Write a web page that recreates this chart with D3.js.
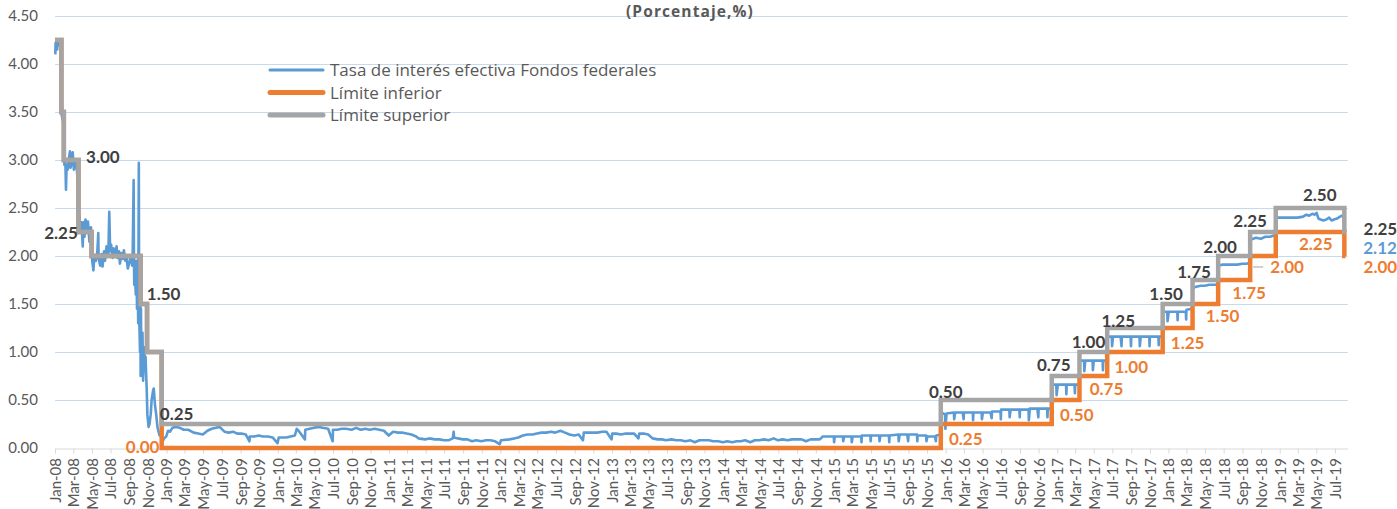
<!DOCTYPE html>
<html><head><meta charset="utf-8">
<script src="https://cdn.jsdelivr.net/npm/d3@7"></script>
<style>body{margin:0;background:#fff}svg{display:block;font-family:Lato,"Open Sans",sans-serif}</style>
</head><body><svg id="c" width="1397" height="509"></svg>
<script>
// ---------------- DATA ----------------
const title = "(Porcentaje,%)";
const seriesNames = ["Tasa de interés efectiva Fondos federales", "Límite inferior", "Límite superior"];
const yTicks = [0, 0.5, 1, 1.5, 2, 2.5, 3, 3.5, 4, 4.5];

// Policy range change dates and bounds
const policyDates = ["2008-01-01","2008-01-22","2008-01-30","2008-03-18","2008-04-30","2008-10-08","2008-10-29","2008-12-16","2015-12-16","2016-12-14","2017-03-15","2017-06-14","2017-12-13","2018-03-21","2018-06-13","2018-09-26","2018-12-19","2019-08-01"];
const upperValues = [4.25,3.50,3.00,2.25,2.00,1.50,1.00,0.25,0.50,0.75,1.00,1.25,1.50,1.75,2.00,2.25,2.50,2.25];
const lowerValues = [4.25,3.50,3.00,2.25,2.00,1.50,1.00,0.00,0.25,0.50,0.75,1.00,1.25,1.50,1.75,2.00,2.25,2.00];
const lastDate = "2019-08-05";

// Effective federal funds rate
const effr2008 = [
["2008-01-02",4.10],["2008-01-03",4.22],["2008-01-08",4.15],["2008-01-11",4.25],["2008-01-16",4.20],["2008-01-21",4.25],
["2008-01-22",3.50],["2008-01-24",3.45],["2008-01-28",3.40],["2008-01-30",3.05],["2008-02-01",2.95],["2008-02-04",3.00],
["2008-02-06",2.69],["2008-02-08",2.95],["2008-02-12",2.90],["2008-02-15",3.00],["2008-02-19",3.09],["2008-02-21",2.92],
["2008-02-25",2.98],["2008-02-28",3.08],["2008-03-03",2.90],["2008-03-06",3.00],["2008-03-11",2.95],["2008-03-14",2.85],
["2008-03-18",2.45],["2008-03-19",2.50],["2008-03-24",2.25],["2008-03-28",2.35],["2008-04-01",2.10],["2008-04-03",2.35],
["2008-04-07",2.20],["2008-04-10",2.38],["2008-04-15",2.25],["2008-04-18",2.36],["2008-04-23",2.15],["2008-04-28",2.30],
["2008-04-30",2.10],["2008-05-02",1.95],["2008-05-06",1.85],["2008-05-09",2.00],["2008-05-14",1.95],["2008-05-19",2.05],
["2008-05-22",2.24],["2008-05-23",1.98],["2008-05-28",1.90],["2008-06-02",2.02],["2008-06-05",1.89],["2008-06-10",2.05],
["2008-06-13",1.95],["2008-06-18",2.10],["2008-06-24",2.00],["2008-06-27",2.46],["2008-06-30",2.05],["2008-07-03",2.12],
["2008-07-08",1.98],["2008-07-11",2.08],["2008-07-16",2.02],["2008-07-21",2.10],["2008-07-24",1.98],["2008-07-29",2.05],
["2008-08-01",1.92],["2008-08-06",2.03],["2008-08-11",1.97],["2008-08-14",2.06],["2008-08-19",1.95],["2008-08-22",2.00],
["2008-08-27",1.87],["2008-09-02",1.95],["2008-09-05",2.00],["2008-09-10",1.90],["2008-09-12",2.05],["2008-09-15",2.79],
["2008-09-16",2.00],["2008-09-17",1.70],["2008-09-19",1.90],["2008-09-22",1.60],["2008-09-24",1.95],["2008-09-26",1.45],
["2008-09-29",1.60],["2008-09-30",1.30],["2008-10-02",2.97],["2008-10-03",1.40],["2008-10-06",1.00],["2008-10-07",1.50],
["2008-10-08",0.75],["2008-10-09",1.45],["2008-10-10",0.90],["2008-10-14",1.20],["2008-10-16",0.70],["2008-10-20",1.05],
["2008-10-22",0.85],["2008-10-24",0.95],["2008-10-28",0.60],["2008-10-30",0.35],["2008-11-03",0.22],["2008-11-06",0.25],
["2008-11-10",0.35],["2008-11-13",0.50],["2008-11-18",0.60],["2008-11-20",0.62],["2008-11-24",0.45],["2008-11-28",0.35],
["2008-12-02",0.22],["2008-12-05",0.18],["2008-12-09",0.13],["2008-12-12",0.16],["2008-12-16",0.10],["2008-12-19",0.07],
["2008-12-24",0.10],["2008-12-31",0.12]
];
const effr2009_2014 = [
["2009-01-06",0.18],["2009-01-12",0.17],["2009-01-20",0.21],["2009-02-02",0.22],["2009-02-13",0.21],["2009-02-27",0.19],
["2009-03-13",0.19],["2009-03-31",0.16],["2009-04-15",0.15],["2009-04-30",0.14],["2009-05-15",0.18],["2009-05-29",0.20],
["2009-06-12",0.21],["2009-06-24",0.22],["2009-07-10",0.17],["2009-07-24",0.16],["2009-08-07",0.17],["2009-08-21",0.15],
["2009-09-04",0.15],["2009-09-18",0.14],["2009-09-30",0.07],["2009-10-01",0.12],["2009-10-15",0.12],["2009-10-30",0.13],
["2009-11-13",0.12],["2009-11-30",0.12],["2009-12-15",0.11],["2009-12-31",0.05],["2010-01-04",0.11],["2010-01-15",0.11],
["2010-01-29",0.11],["2010-02-12",0.12],["2010-02-26",0.13],["2010-03-04",0.20],["2010-03-10",0.18],["2010-03-31",0.09],
["2010-04-01",0.19],["2010-04-15",0.20],["2010-04-30",0.21],["2010-05-14",0.22],["2010-05-28",0.21],["2010-06-15",0.20],
["2010-06-30",0.07],["2010-07-01",0.19],["2010-07-15",0.19],["2010-07-30",0.20],["2010-08-13",0.20],["2010-08-31",0.19],
["2010-09-15",0.21],["2010-09-30",0.19],["2010-10-15",0.20],["2010-10-29",0.19],["2010-11-15",0.20],["2010-11-30",0.19],
["2010-12-15",0.18],["2010-12-31",0.13],["2011-01-14",0.17],["2011-01-31",0.16],["2011-02-15",0.16],["2011-02-28",0.15],
["2011-03-15",0.14],["2011-03-31",0.12],["2011-04-08",0.10],["2011-04-29",0.09],["2011-05-13",0.10],["2011-05-31",0.09],
["2011-06-15",0.09],["2011-06-30",0.08],["2011-07-15",0.08],["2011-07-29",0.10],["2011-08-01",0.17],["2011-08-02",0.11],
["2011-08-15",0.10],["2011-08-31",0.09],["2011-09-15",0.09],["2011-09-30",0.07],["2011-10-14",0.08],["2011-10-31",0.07],
["2011-11-15",0.08],["2011-11-30",0.08],["2011-12-15",0.07],["2011-12-30",0.04],["2012-01-03",0.08],["2012-01-31",0.09],
["2012-02-15",0.10],["2012-02-29",0.11],["2012-03-15",0.13],["2012-03-30",0.14],["2012-04-16",0.14],["2012-04-30",0.15],
["2012-05-15",0.16],["2012-05-31",0.16],["2012-06-15",0.17],["2012-06-29",0.16],["2012-07-16",0.18],["2012-07-31",0.16],
["2012-08-15",0.14],["2012-08-31",0.13],["2012-09-14",0.14],["2012-09-28",0.08],["2012-10-01",0.16],["2012-10-15",0.16],
["2012-10-31",0.16],["2012-11-15",0.16],["2012-11-30",0.17],["2012-12-14",0.17],["2012-12-31",0.09],["2013-01-02",0.15],
["2013-01-15",0.15],["2013-01-31",0.14],["2013-02-15",0.15],["2013-02-28",0.15],["2013-03-15",0.15],["2013-03-29",0.10],
["2013-04-01",0.15],["2013-04-15",0.15],["2013-04-30",0.14],["2013-05-15",0.10],["2013-05-31",0.09],["2013-06-14",0.09],
["2013-06-28",0.08],["2013-07-15",0.09],["2013-07-31",0.08],["2013-08-15",0.08],["2013-08-30",0.07],["2013-09-16",0.08],
["2013-09-30",0.06],["2013-10-15",0.08],["2013-10-31",0.08],["2013-11-15",0.08],["2013-11-29",0.07],["2013-12-16",0.07],
["2013-12-31",0.06],["2014-01-15",0.07],["2014-01-31",0.06],["2014-02-14",0.07],["2014-02-28",0.07],["2014-03-14",0.08],
["2014-03-31",0.06],["2014-04-15",0.08],["2014-04-30",0.08],["2014-05-15",0.09],["2014-05-30",0.08],["2014-06-16",0.10],
["2014-06-30",0.08],["2014-07-15",0.09],["2014-07-31",0.08],["2014-08-15",0.09],["2014-08-29",0.09],["2014-09-15",0.09],
["2014-09-30",0.07],["2014-10-15",0.09],["2014-10-31",0.09],["2014-11-14",0.09],["2014-11-24",0.12]
];
const effr2015_2017 = [
["2014-12-01",0.12],["2014-12-30",0.12],["2014-12-31",0.06],["2015-01-02",0.12],
["2015-01-29",0.12],["2015-01-30",0.07],["2015-02-02",0.12],["2015-02-26",0.12],["2015-02-27",0.06],["2015-03-02",0.12],
["2015-03-30",0.12],["2015-03-31",0.06],["2015-04-01",0.13],["2015-04-29",0.13],["2015-04-30",0.07],["2015-05-01",0.13],
["2015-05-28",0.13],["2015-05-29",0.07],["2015-06-01",0.13],["2015-06-29",0.13],["2015-06-30",0.06],["2015-07-01",0.13],
["2015-07-30",0.14],["2015-07-31",0.07],["2015-08-03",0.14],["2015-08-28",0.14],["2015-08-31",0.07],["2015-09-01",0.14],
["2015-09-29",0.14],["2015-09-30",0.07],["2015-10-01",0.13],["2015-10-29",0.13],["2015-10-30",0.07],["2015-11-02",0.12],
["2015-11-27",0.12],["2015-11-30",0.07],["2015-12-01",0.13],["2015-12-16",0.14],["2015-12-17",0.37],
["2015-12-30",0.35],["2015-12-31",0.20],["2016-01-04",0.36],["2016-01-28",0.37],["2016-01-29",0.30],["2016-02-01",0.37],
["2016-02-26",0.37],["2016-02-29",0.30],["2016-03-01",0.37],["2016-03-30",0.37],["2016-03-31",0.29],["2016-04-01",0.37],
["2016-04-28",0.37],["2016-04-29",0.30],["2016-05-02",0.37],["2016-05-27",0.37],["2016-05-31",0.31],["2016-06-01",0.38],
["2016-06-29",0.38],["2016-06-30",0.30],["2016-07-01",0.40],["2016-07-28",0.40],["2016-07-29",0.32],["2016-08-01",0.40],
["2016-08-30",0.40],["2016-08-31",0.32],["2016-09-01",0.40],["2016-09-29",0.40],["2016-09-30",0.29],["2016-10-03",0.41],
["2016-10-28",0.41],["2016-10-31",0.32],["2016-11-01",0.41],["2016-11-29",0.41],["2016-11-30",0.32],["2016-12-01",0.41],
["2016-12-14",0.41],["2016-12-15",0.66],["2016-12-29",0.66],["2016-12-30",0.55],["2017-01-03",0.66],
["2017-01-30",0.66],["2017-01-31",0.56],["2017-02-01",0.66],["2017-02-27",0.66],["2017-02-28",0.57],["2017-03-01",0.66],
["2017-03-15",0.66],["2017-03-16",0.91],["2017-03-30",0.91],["2017-03-31",0.80],["2017-04-03",0.91],
["2017-04-27",0.91],["2017-04-28",0.81],["2017-05-01",0.91],["2017-05-30",0.91],["2017-05-31",0.81],["2017-06-01",0.91],
["2017-06-14",0.91],["2017-06-15",1.16],["2017-06-29",1.16],["2017-06-30",1.06],["2017-07-03",1.16],
["2017-07-28",1.16],["2017-07-31",1.06],["2017-08-01",1.16],["2017-08-30",1.16],["2017-08-31",1.06],["2017-09-01",1.16],
["2017-09-28",1.16],["2017-09-29",1.06],["2017-10-02",1.16],["2017-10-30",1.16],["2017-10-31",1.06],["2017-11-01",1.16],
["2017-11-29",1.16],["2017-11-30",1.07],["2017-12-01",1.16],["2017-12-13",1.16],["2017-12-14",1.42]
];
const effr2018_2019 = [
["2017-12-28",1.42],["2017-12-29",1.32],["2018-01-02",1.42],["2018-01-30",1.42],["2018-01-31",1.33],["2018-02-01",1.42],
["2018-02-27",1.42],["2018-02-28",1.34],["2018-03-01",1.44],["2018-03-21",1.45],["2018-03-22",1.67],
["2018-04-02",1.68],["2018-04-16",1.69],["2018-04-30",1.69],["2018-05-15",1.70],["2018-05-31",1.70],["2018-06-13",1.70],
["2018-06-14",1.90],["2018-06-29",1.91],["2018-07-16",1.91],["2018-07-31",1.91],["2018-08-15",1.91],["2018-08-31",1.92],
["2018-09-14",1.92],["2018-09-26",1.93],["2018-09-27",2.17],["2018-10-15",2.19],["2018-10-31",2.18],["2018-11-15",2.20],
["2018-11-30",2.20],["2018-12-10",2.21],["2018-12-19",2.21],["2018-12-20",2.40],["2019-01-02",2.40],["2019-01-15",2.40],
["2019-01-31",2.40],["2019-02-15",2.40],["2019-02-28",2.40],["2019-03-19",2.41],["2019-03-29",2.43],["2019-04-08",2.42],
["2019-04-18",2.44],["2019-04-26",2.43],["2019-05-02",2.45],["2019-05-08",2.39],["2019-05-15",2.38],["2019-05-24",2.37],
["2019-06-03",2.38],["2019-06-12",2.40],["2019-06-20",2.37],["2019-06-28",2.38],["2019-07-08",2.39],["2019-07-18",2.41],
["2019-07-24",2.42],["2019-07-31",2.40],["2019-08-01",2.13],["2019-08-05",2.12]
];

// Data labels (anchor date, value)
const upperLabels = [["2008-01-30",3.00],["2008-03-18",2.25],["2008-10-08",1.50],["2008-12-16",0.25],["2015-12-16",0.50],["2016-12-14",0.75],["2017-03-15",1.00],["2017-06-14",1.25],["2017-12-13",1.50],["2018-03-21",1.75],["2018-06-13",2.00],["2018-09-26",2.25],["2018-12-19",2.50],["2019-08-01",2.25]];
const lowerLabels = [["2008-12-16",0.00],["2015-12-16",0.25],["2016-12-14",0.50],["2017-03-15",0.75],["2017-06-14",1.00],["2017-12-13",1.25],["2018-03-21",1.50],["2018-06-13",1.75],["2018-09-26",2.00],["2018-12-19",2.25],["2019-08-01",2.00]];
const effrLabels = [["2019-08-05",2.12]];

// ---------------- LAYOUT ----------------
const upperLabelOffsets = [[39,-3],[-17.5,1],[23,-10],[15,-10],[5,-8],[2,-11],[9,-10],[11,-7],[3.5,-10],[1.5,-8],[2,-9],[0,-11],[44,-13],[36,-3]];
const lowerLabelOffsets = [[-19,-1],[25,15],[25,15],[27,13],[24,15],[25,15],[30,12],[31,13],[37,11],[40,12],[36,11]];
const effrLabelOffsets = [[34.5,3.5]];
const leaderLabelIndex = 8; // lower label with leader line

const colors = {effr:"#5B9BD5", lower:"#ED7D31", upper:"#A5A5A5"};

const parse = d3.utcParse("%Y-%m-%d");
const svg = d3.select("#c");
const x = d3.scaleUtc().domain([parse("2008-01-01"), parse("2019-08-12")]).range([55, 1347.7]);
const y = d3.scaleLinear().domain([0, 4.5]).range([448, 16]);
const fmt = d3.format(".2f");

// gridlines
svg.append("g").selectAll("line").data(yTicks.filter(v => v > 0)).join("line")
  .attr("x1", 55).attr("x2", 1347.7)
  .attr("y1", d => Math.round(y(d)) + 0.5).attr("y2", d => Math.round(y(d)) + 0.5)
  .attr("stroke", "#C6DAEF").attr("stroke-width", 1);

// y labels
svg.append("g").selectAll("text").data(yTicks).join("text")
  .attr("x", 38).attr("y", d => y(d)).attr("dy", "0.36em")
  .attr("text-anchor", "end").attr("fill", "#595959").attr("font-size", 15)
  .text(d => fmt(d));

// x axis
const xAxis = d3.axisBottom(x).ticks(d3.utcMonth.every(2)).tickFormat(d3.utcFormat("%b-%y")).tickSize(5).tickSizeOuter(0);
const gx = svg.append("g").attr("transform", "translate(0,448.5)").call(xAxis);
gx.select(".domain").attr("stroke", "#D9D9D9").attr("stroke-width", 1);
gx.selectAll(".tick line").attr("stroke", "#D9D9D9");
gx.selectAll(".tick text").attr("transform", "rotate(-90)").attr("text-anchor", "end")
  .attr("x", -9.5).attr("y", 0).attr("dy", "0.36em")
  .attr("fill", "#595959").attr("font-size", 15).attr("font-family", "Lato, 'Open Sans', sans-serif");

// series
const effr = [...effr2008, ...effr2009_2014, ...effr2015_2017, ...effr2018_2019]
  .map(([d, v]) => ({date: parse(d), value: v})).sort((a, b) => a.date - b.date);
const stepPts = vals => policyDates.map((d, i) => ({date: parse(d), value: vals[i]}))
  .concat([{date: parse(lastDate), value: vals[vals.length - 1]}]);

const line = d3.line().x(d => x(d.date)).y(d => y(d.value));
const stepLine = d3.line().curve(d3.curveStepAfter).x(d => x(d.date)).y(d => y(d.value));

svg.append("path").datum(effr).attr("d", line).attr("fill", "none")
  .attr("stroke", colors.effr).attr("stroke-width", 2.6).attr("stroke-linejoin", "round");
svg.append("path").datum(stepPts(lowerValues)).attr("d", stepLine).attr("fill", "none")
  .attr("stroke", colors.lower).attr("stroke-width", 4.5);
svg.append("path").datum(stepPts(upperValues)).attr("d", stepLine).attr("fill", "none")
  .attr("stroke", colors.upper).attr("stroke-width", 4.5);

// data labels
function drawLabels(arr, offs, color) {
  svg.append("g").selectAll("text").data(arr).join("text")
    .attr("x", (d, i) => x(parse(d[0])) + offs[i][0])
    .attr("y", (d, i) => y(d[1]) + offs[i][1])
    .attr("dy", "0.36em").attr("text-anchor", "middle")
    .attr("font-size", 17).attr("font-weight", "bold").attr("fill", color)
    .text(d => fmt(d[1]));
}
drawLabels(upperLabels, upperLabelOffsets, "#404040");
drawLabels(lowerLabels, lowerLabelOffsets, colors.lower);
drawLabels(effrLabels, effrLabelOffsets, colors.effr);

// leader line
{
  const d = lowerLabels[leaderLabelIndex], o = lowerLabelOffsets[leaderLabelIndex];
  const lx = x(parse(d[0])), ly = y(d[1]) + o[1];
  svg.append("line").attr("x1", lx + 3).attr("x2", lx + 13).attr("y1", ly).attr("y2", ly)
    .attr("stroke", "#A5A5A5").attr("stroke-width", 1);
}

// title
svg.append("text").attr("x", 690).attr("y", 17).attr("text-anchor", "middle")
  .attr("font-family", "'Open Sans', Lato, sans-serif").attr("letter-spacing", 1.1)
  .attr("font-size", 15.5).attr("font-weight", "bold").attr("fill", "#595959").text(title);

// legend
const legColors = [colors.effr, colors.lower, colors.upper];
const legWidths = [3, 5, 5];
const lg = svg.append("g").selectAll("g").data(seriesNames).join("g")
  .attr("transform", (d, i) => `translate(270,${70 + i * 22.5})`);
lg.append("line").attr("x1", 0).attr("x2", 53).attr("y1", 0).attr("y2", 0)
  .attr("stroke", (d, i) => legColors[i]).attr("stroke-width", (d, i) => legWidths[i]).attr("stroke-linecap", "round");
lg.append("text").attr("x", 60).attr("y", 0).attr("dy", "0.36em")
  .attr("font-family", "'Open Sans', Lato, sans-serif")
  .attr("font-size", 17).attr("fill", "#595959").text(d => d);
</script></body></html>
